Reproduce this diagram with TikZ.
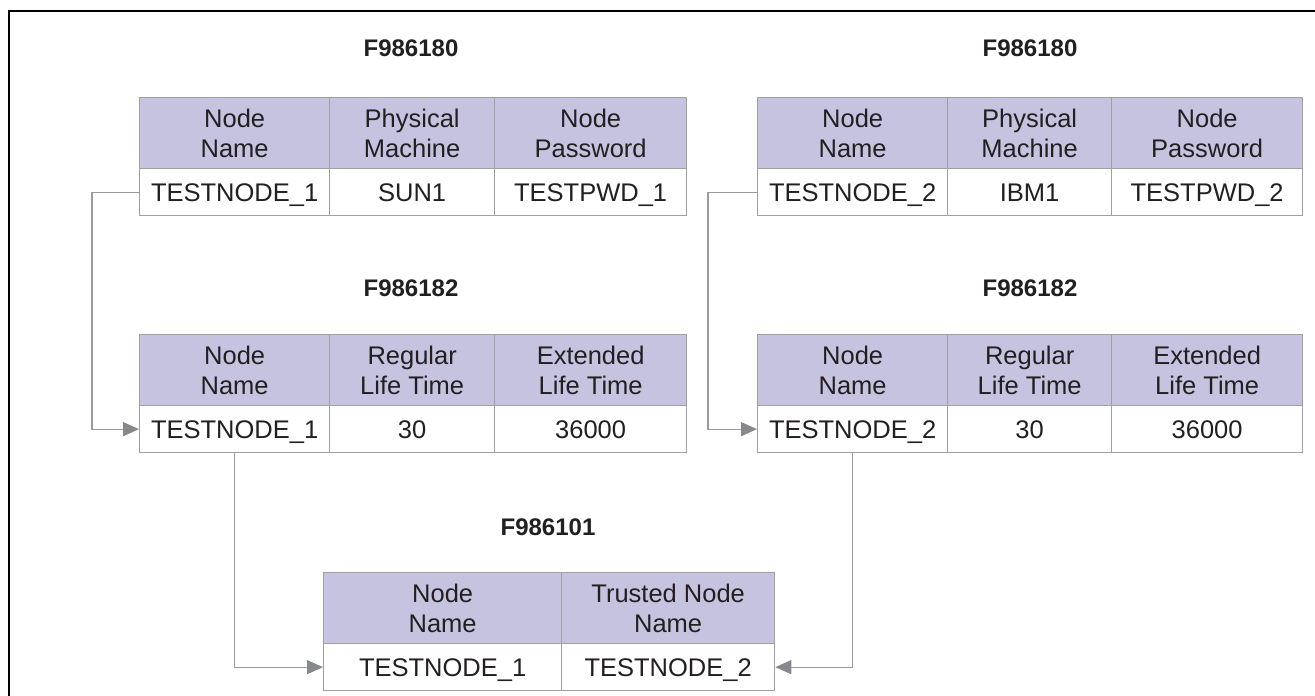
\documentclass[tikz,border=0pt]{standalone}
\usepackage{fontspec}
\setmainfont{Liberation Sans}
\usetikzlibrary{arrows.meta}
\definecolor{hdrfill}{RGB}{198,195,224}
\definecolor{gridgray}{RGB}{160,160,160}
\definecolor{linkgray}{RGB}{155,155,155}
\definecolor{tipgray}{RGB}{135,135,142}
\definecolor{txt}{RGB}{35,31,32}
\begin{document}
\begin{tikzpicture}[x=1pt,y=-1pt,
  cell/.style={draw=gridgray, line width=1.3pt, inner sep=0pt, align=center,
    anchor=north west, text=txt, font=\fontsize{25.5}{30}\selectfont},
  hdr/.style={cell, fill=hdrfill, minimum height=71pt},
  dat/.style={cell, fill=white, minimum height=47pt, text height=18.3pt, text depth=0pt},
  tabtitle/.style={text=txt, font=\bfseries\fontsize{24}{28}\selectfont},
  link/.style={draw=linkgray, line width=1.3pt,
    -{Triangle[length=16pt,width=14pt,color=tipgray]}}]

\useasboundingbox (0,0) rectangle (1315,696);
% frame
\draw[line width=2.5pt] (9,696) -- (9,11) -- (1315,11);

% F986180, first node
\node[tabtitle] (tAt) at (411,48) {F986180};
\node[hdr, minimum width=190pt] (tA1) at (139,97) {Node\\Name};
\node[hdr, minimum width=165pt] (tA2) at (329,97) {Physical\\Machine};
\node[hdr, minimum width=192pt] (tA3) at (494,97) {Node\\Password};
\node[dat, minimum width=190pt] (tA4) at (139,168) {TESTNODE\_1};
\node[dat, minimum width=165pt] (tA5) at (329,168) {SUN1};
\node[dat, minimum width=192pt] (tA6) at (494,168) {TESTPWD\_1};

% F986180, second node
\node[tabtitle] (tBt) at (1030,48) {F986180};
\node[hdr, minimum width=190pt] (tB1) at (757,97) {Node\\Name};
\node[hdr, minimum width=164pt] (tB2) at (947,97) {Physical\\Machine};
\node[hdr, minimum width=191pt] (tB3) at (1111,97) {Node\\Password};
\node[dat, minimum width=190pt] (tB4) at (757,168) {TESTNODE\_2};
\node[dat, minimum width=164pt] (tB5) at (947,168) {IBM1};
\node[dat, minimum width=191pt] (tB6) at (1111,168) {TESTPWD\_2};

% F986182, first node
\node[tabtitle] (mAt) at (411,288) {F986182};
\node[hdr, minimum width=190pt] (mA1) at (139,334) {Node\\Name};
\node[hdr, minimum width=165pt] (mA2) at (329,334) {Regular\\Life Time};
\node[hdr, minimum width=192pt] (mA3) at (494,334) {Extended\\Life Time};
\node[dat, minimum width=190pt] (mA4) at (139,405) {TESTNODE\_1};
\node[dat, minimum width=165pt] (mA5) at (329,405) {30};
\node[dat, minimum width=192pt] (mA6) at (494,405) {36000};

% F986182, second node
\node[tabtitle] (mBt) at (1030,288) {F986182};
\node[hdr, minimum width=190pt] (mB1) at (757,334) {Node\\Name};
\node[hdr, minimum width=164pt] (mB2) at (947,334) {Regular\\Life Time};
\node[hdr, minimum width=191pt] (mB3) at (1111,334) {Extended\\Life Time};
\node[dat, minimum width=190pt] (mB4) at (757,405) {TESTNODE\_2};
\node[dat, minimum width=164pt] (mB5) at (947,405) {30};
\node[dat, minimum width=191pt] (mB6) at (1111,405) {36000};

% F986101
\node[tabtitle] (bt) at (548,527) {F986101};
\node[hdr, minimum width=238pt] (b1) at (323,572) {Node\\Name};
\node[hdr, minimum width=213pt] (b2) at (561,572) {Trusted Node\\Name};
\node[dat, minimum width=238pt] (b3) at (323,643) {TESTNODE\_1};
\node[dat, minimum width=213pt] (b4) at (561,643) {TESTNODE\_2};

% key links
\draw[link] (tA4.west) -- ++(-47,0) |- (mA4.west);
\draw[link] (tB4.west) -- ++(-49,0) |- (mB4.west);
\draw[link] (mA4.south) |- (b3.west);
\draw[link] (mB4.south) |- (b4.east);
\end{tikzpicture}
\end{document}
